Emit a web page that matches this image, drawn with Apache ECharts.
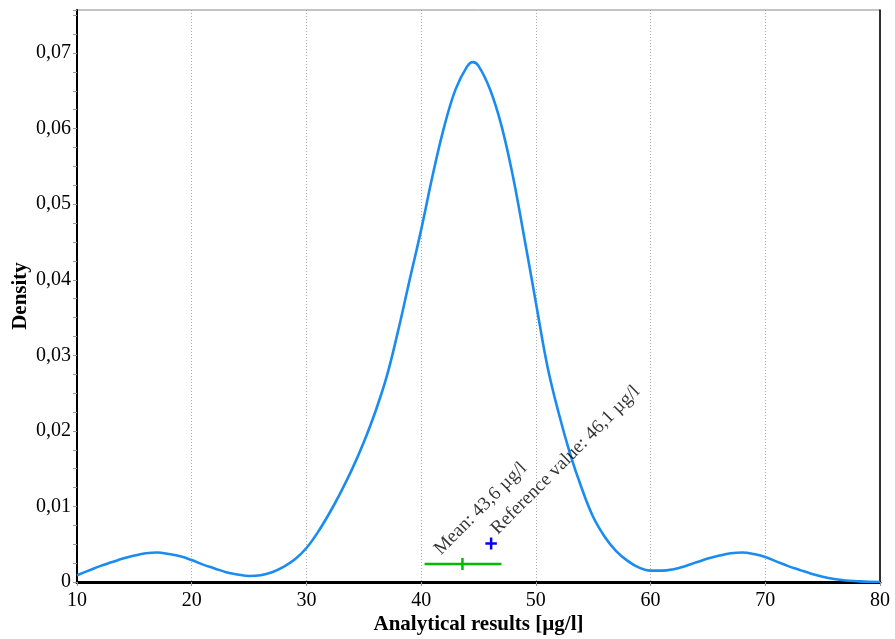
<!DOCTYPE html>
<html>
<head>
<meta charset="utf-8">
<script src="https://cdn.jsdelivr.net/npm/echarts@6/dist/echarts.min.js"></script>
<style>html,body{margin:0;padding:0;background:#fff}#c{width:895px;height:639px}</style>
</head>
<body>
<div id="c"></div>
<script>
// Density curve (x in µg/l, density)
var densityX = [10,11,12,13,14,15,16,17,18,19,20,21,22,23,24,25,26,27,28,29,30,31,32,33,34,35,36,37,38,39,40,41,42,43,44,44.5,45,46,47,48,49,50,51,52,53,54,55,56,57,58,59,60,61,62,63,64,65,66,67,68,69,70,71,72,73,74,75,76,77,78,79,80];
var densityY = [0.0009,0.0015,0.0021,0.0026,0.0031,0.0035,0.0038,0.0039,0.0037,0.0034,0.0029,0.0023,0.0018,0.0013,0.0010,0.0008,0.0009,0.0013,0.0020,0.0030,0.0045,0.0066,0.0091,0.0119,0.0150,0.0185,0.0225,0.0272,0.0333,0.0400,0.0466,0.0538,0.0602,0.0652,0.0682,0.0688,0.0683,0.0652,0.0604,0.0537,0.0455,0.0370,0.0286,0.0223,0.0169,0.0124,0.0086,0.0060,0.0041,0.0028,0.0019,0.0015,0.0015,0.0017,0.0021,0.0026,0.0031,0.0035,0.0038,0.0039,0.0037,0.0033,0.0027,0.0021,0.0016,0.0011,0.0007,0.0004,0.0002,0.0001,0.00002,0];
// Mean with interval
var meanValue = 43.6;
var meanLow = 40.3;
var meanHigh = 47.0;
var meanLevel = 0.00238;
var meanTickHalf = 0.0008;
// Reference value marker
var refValue = 46.1;
var refLevel = 0.0051;
var refHalfX = 0.5;
var refHalfY = 0.0008;
// Annotation text anchors
var meanLabelText = 'Mean: 43,6 µg/l';
var meanLabelAt = [42.0, 0.0031];
var refLabelText = 'Reference value: 46,1 µg/l';
var refLabelAt = [46.95, 0.0058];
// Axes
var xMin = 10, xMax = 80, xStep = 10;
var yMin = 0, yMax = 0.0757, yStep = 0.01, yMinorStep = 0.0025;

var font = 'Liberation Serif';
var curve = densityX.map(function (x, i) { return [x, densityY[i]]; });

var chart = echarts.init(document.getElementById('c'), null, {renderer: 'canvas'});
chart.setOption({
  animation: false,
  backgroundColor: '#fff',
  grid: {left: 77, right: 15, top: 10, bottom: 57, containLabel: false, outerBoundsMode: 'none',
    show: true, borderColor: '#888', borderWidth: 1},
  xAxis: {
    type: 'value', min: xMin, max: xMax, interval: xStep,
    name: 'Analytical results [µg/l]', nameLocation: 'middle', nameGap: 32, nameMoveOverlap: false,
    nameTextStyle: {fontFamily: font, fontSize: 21, fontWeight: 'bold', color: '#000'},
    axisLine: {show: true, lineStyle: {color: '#000', width: 3}},
    axisTick: {show: true, length: 4, lineStyle: {color: '#999'}},
    axisLabel: {fontFamily: font, fontSize: 20, color: '#000', margin: 9},
    splitLine: {show: true, lineStyle: {color: '#aaa', type: [1, 2], width: 1}}
  },
  yAxis: [{
    type: 'value', min: yMin, max: yMax, interval: yStep, position: 'left',
    name: 'Density', nameLocation: 'middle', nameGap: 46, nameRotate: 90, nameMoveOverlap: false,
    nameTextStyle: {fontFamily: font, fontSize: 21, fontWeight: 'bold', color: '#000'},
    axisLine: {show: true, lineStyle: {color: '#000', width: 2}},
    axisTick: {show: false},
    axisLabel: {fontFamily: font, fontSize: 20, color: '#000', margin: 6, showMaxLabel: false,
      formatter: function (v) { return v === 0 ? '0' : v.toFixed(2).replace('.', ','); }},
    splitLine: {show: false}
  }, {
    type: 'value', min: yMin, max: yMax, interval: yMinorStep, position: 'left',
    axisLine: {show: false},
    axisTick: {show: true, length: 4, lineStyle: {color: '#999'}},
    axisLabel: {show: false},
    splitLine: {show: false}
  }, {
    type: 'value', min: yMin, max: yMax, position: 'right',
    axisLine: {show: true, lineStyle: {color: '#000', width: 1.5}},
    axisTick: {show: false}, axisLabel: {show: false}, splitLine: {show: false}
  }],
  series: [{
    type: 'line', data: curve, smooth: 0.4, showSymbol: false, symbol: 'none',
    lineStyle: {color: '#1a8cf0', width: 2.6}, z: 3
  }, {
    type: 'line', data: [[meanLow, meanLevel], [meanHigh, meanLevel]], symbol: 'none',
    lineStyle: {color: '#00bb00', width: 2.5}, z: 4
  }, {
    type: 'line', data: [[meanValue, meanLevel - meanTickHalf], [meanValue, meanLevel + meanTickHalf]], symbol: 'none',
    lineStyle: {color: '#00bb00', width: 2.5}, z: 4
  }, {
    type: 'line', data: [[refValue - refHalfX, refLevel], [refValue + refHalfX, refLevel]], symbol: 'none',
    lineStyle: {color: '#0000ff', width: 2.5}, z: 4
  }, {
    type: 'line', data: [[refValue, refLevel - refHalfY], [refValue, refLevel + refHalfY]], symbol: 'none',
    lineStyle: {color: '#0000ff', width: 2.5}, z: 4
  }, {
    type: 'scatter', symbolSize: 0, z: 5, silent: true,
    data: [
      {value: meanLabelAt, name: meanLabelText},
      {value: refLabelAt, name: refLabelText}
    ],
    label: {show: true, position: 'inside', rotate: 45, align: 'left', verticalAlign: 'bottom',
      formatter: function (p) { return p.name; },
      fontFamily: font, fontSize: 19, color: '#000'}
  }]
});
</script>
</body>
</html>
